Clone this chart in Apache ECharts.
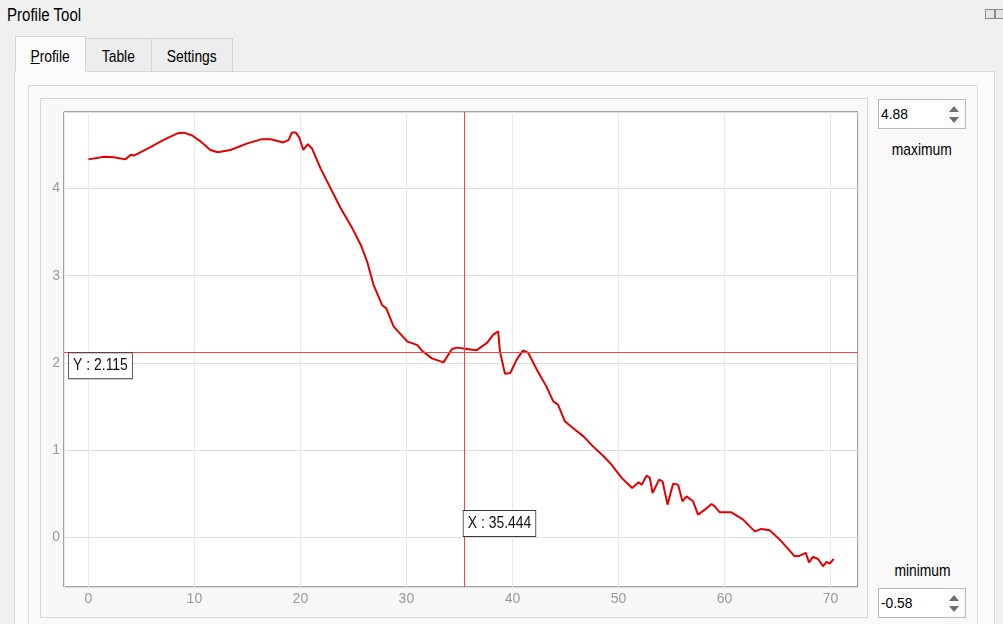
<!DOCTYPE html>
<html>
<head>
<meta charset="utf-8">
<script src="https://cdn.jsdelivr.net/npm/echarts@6/dist/echarts.min.js"></script>
<style>
  html, body { margin: 0; padding: 0; width: 1003px; height: 624px; overflow: hidden; background: #f0f0f0; font-family: "Liberation Sans", Arial, sans-serif; color: #000; }
  .abs { position: absolute; }
  #title { left: 7px; top: 5px; font-size: 18px; line-height: 20px; transform: scaleX(0.836); transform-origin: left center; white-space: nowrap; }
  .tab { box-sizing: border-box; border: 1px solid #d5d5d5; border-bottom: none; text-align: center; font-size: 17px; line-height: 20px; }
  .tab span { display: inline-block; transform: scaleX(0.815); }
  #pane { left: 14px; top: 71px; width: 981px; height: 570px; box-sizing: border-box; border: 1px solid #d9d9d9; background: #fbfbfb; }
  #frame { left: 28px; top: 85px; width: 950px; height: 560px; box-sizing: border-box; border: 1px solid #dcdcdc; background: #f9f9f9; }
  #widget { left: 40px; top: 98px; width: 828px; height: 520px; box-sizing: border-box; border: 1px solid #d6d6d6; background: #f8f8f8; }
  .spin { width: 88px; height: 30px; box-sizing: border-box; border: 1px solid #b9b9b9; background: #fff; font-size: 15px; line-height: 28px; padding-left: 2px; }
  .spin .val { display: inline-block; transform: scaleX(0.92); transform-origin: left center; }
  .spin .arr { position: absolute; right: 0; top: 0; width: 21px; height: 28px; background: #fbfbfb; }
  .up { position: absolute; left: 5px; top: 6px; width: 0; height: 0; border-left: 5px solid transparent; border-right: 5px solid transparent; border-bottom: 6px solid #6f6f6f; }
  .dn { position: absolute; left: 5px; top: 17px; width: 0; height: 0; border-left: 5px solid transparent; border-right: 5px solid transparent; border-top: 6px solid #6f6f6f; }
  .lbl { width: 90px; text-align: center; font-size: 17px; line-height: 20px; }
  .lbl span { display: inline-block; transform: scaleX(0.815); }
  #chart { left: 0; top: 0; width: 1003px; height: 624px; }
  .ico { width: 8px; height: 8px; border: 1px solid #8a8a8a; background: #e4e4e4; }
</style>
</head>
<body>
<div id="title" class="abs">Profile Tool</div>
<div class="abs ico" style="left:985px;top:9px;"></div>
<div class="abs ico" style="left:995px;top:9px;"></div>

<div id="pane" class="abs"></div>
<div class="abs tab" style="left:85px;top:38px;width:67px;height:33px;background:#ededed;padding-top:8px;"><span>Table</span></div>
<div class="abs tab" style="left:152px;top:38px;width:81px;height:33px;background:#ededed;padding-top:8px;border-left:none;"><span>Settings</span></div>
<div class="abs tab" style="left:15px;top:36px;width:71px;height:36px;background:#fbfbfb;padding-top:10px;"><span><u>P</u>rofile</span></div>
<div id="frame" class="abs"></div>
<div id="widget" class="abs"></div>

<div class="abs spin" style="left:878px;top:99px;"><span class="val">4.88</span><div class="arr"><div class="up"></div><div class="dn"></div></div></div>
<div class="abs lbl" style="left:877px;top:140px;"><span>maximum</span></div>
<div class="abs lbl" style="left:877px;top:561px;"><span>minimum</span></div>
<div class="abs spin" style="left:878px;top:588px;"><span class="val">-0.58</span><div class="arr"><div class="up"></div><div class="dn"></div></div></div>

<div id="chart" class="abs"></div>

<script>
// ---- data ----
const distance = [0, 1.5, 2.4, 3.5, 4.0, 4.3, 5.9, 7.1, 8.4, 9.0, 9.8, 10.6, 11.5, 12.2, 13.4, 15.0, 16.3, 17.2, 18.4, 18.9, 19.2, 19.55, 19.9, 20.27, 20.7, 21.1, 21.9, 22.85, 23.8, 24.9, 25.7, 26.3, 26.9, 27.7, 28.1, 28.8, 30.1, 31.0, 31.5, 32.4, 33.5, 34.3, 34.8, 35.7, 36.6, 37.6, 38.2, 38.66, 38.82, 39.3, 39.8, 40.4, 41.0, 41.5, 42.3, 43.2, 43.85, 44.3, 44.95, 45.7, 46.7, 47.6, 48.6, 49.35, 50.3, 51.3, 51.9, 52.2, 52.65, 52.96, 53.22, 53.84, 54.16, 54.63, 55.16, 55.63, 56.04, 56.42, 57.04, 57.51, 58.15, 58.78, 59.09, 59.56, 60.66, 61.76, 62.86, 63.49, 64.27, 65.22, 66.0, 66.63, 67.1, 67.67, 67.98, 68.36, 68.83, 69.3, 69.62, 69.93, 70.31];
const elevation = [4.336, 4.367, 4.36, 4.336, 4.39, 4.38, 4.48, 4.56, 4.635, 4.643, 4.61, 4.54, 4.444, 4.417, 4.444, 4.52, 4.566, 4.566, 4.53, 4.56, 4.646, 4.646, 4.585, 4.444, 4.51, 4.46, 4.233, 4.003, 3.774, 3.544, 3.353, 3.16, 2.894, 2.664, 2.625, 2.415, 2.243, 2.205, 2.136, 2.051, 2.005, 2.159, 2.174, 2.159, 2.143, 2.228, 2.323, 2.361, 2.131, 1.875, 1.883, 2.036, 2.143, 2.113, 1.921, 1.729, 1.557, 1.519, 1.328, 1.252, 1.155, 1.04, 0.926, 0.83, 0.678, 0.563, 0.627, 0.60, 0.704, 0.678, 0.505, 0.658, 0.639, 0.371, 0.612, 0.60, 0.409, 0.466, 0.409, 0.256, 0.313, 0.379, 0.351, 0.283, 0.283, 0.199, 0.064, 0.092, 0.076, -0.031, -0.138, -0.223, -0.215, -0.184, -0.292, -0.23, -0.253, -0.337, -0.287, -0.307, -0.253];
const xTicks = [0, 10, 20, 30, 40, 50, 60, 70];
const yTicks = [0, 1, 2, 3, 4];
const xMin = -2.3, xMax = 72.6;
const yMin = -0.575, yMax = 4.88;
const cursorX = 35.444;
const cursorY = 2.115;

const chart = echarts.init(document.getElementById('chart'), null, { renderer: 'canvas' });
const grid = { left: 64, right: 145, top: 112, bottom: 37 };
const fam = '"Liberation Sans", Arial, sans-serif';
const labelStyle = { color: '#9a9a9a', fontSize: 14, fontFamily: fam };

chart.setOption({
  animation: false,
  grid: Object.assign({ show: true, backgroundColor: '#ffffff', borderColor: '#4a4a4a', borderWidth: 1 }, grid),
  xAxis: {
    type: 'value', min: xMin, max: xMax, minInterval: 10, maxInterval: 10, splitNumber: 7,
    axisLine: { show: false }, axisTick: { show: false },
    axisLabel: Object.assign({ margin: 5, customValues: xTicks }, labelStyle),
    splitLine: { show: true, lineStyle: { color: '#e9e9e9', width: 1 } }
  },
  yAxis: {
    type: 'value', min: yMin, max: yMax, minInterval: 1, maxInterval: 1, splitNumber: 5,
    axisLine: { show: false }, axisTick: { show: false },
    axisLabel: Object.assign({ margin: 4, customValues: yTicks }, labelStyle),
    splitLine: { show: true, lineStyle: { color: '#dedede', width: 1 } }
  },
  series: [{
    type: 'line',
    data: distance.map((d, i) => [d, elevation[i]]),
    showSymbol: false,
    symbol: 'none',
    lineStyle: { color: '#e30000', width: 2 },
    z: 3,
    markLine: {
      silent: true,
      symbol: ['none', 'none'],
      label: { show: false },
      lineStyle: { color: '#f04848', width: 1, type: 'solid' },
      data: [{ xAxis: cursorX }, { yAxis: cursorY }],
      z: 4
    }
  }]
});

const p = chart.convertToPixel({ gridIndex: 0 }, [cursorX, cursorY]);
const bottomPx = chart.convertToPixel({ gridIndex: 0 }, [0, yMin])[1];
const leftPx = chart.convertToPixel({ gridIndex: 0 }, [xMin, 0])[0];
const boxFont = '17px ' + fam;
const sx = 0.82;
chart.setOption({
  graphic: [
    {
      type: 'text', z: 100, scaleX: sx,
      x: leftPx + 5, y: p[1] + 0.5,
      style: {
        text: 'Y : ' + cursorY.toFixed(3), font: boxFont, fill: '#111',
        backgroundColor: '#ffffff', borderColor: '#3a3a3a', borderWidth: 1,
        padding: [4, 5, 4, 5], verticalAlign: 'top', align: 'left'
      }
    },
    {
      type: 'text', z: 100, scaleX: sx,
      x: p[0] - 0.5, y: bottomPx - 76,
      style: {
        text: 'X : ' + cursorX.toFixed(3), font: boxFont, fill: '#111',
        backgroundColor: '#ffffff', borderColor: '#3a3a3a', borderWidth: 1,
        padding: [4, 5, 4, 5], verticalAlign: 'top', align: 'left'
      }
    }
  ]
});
</script>
</body>
</html>
